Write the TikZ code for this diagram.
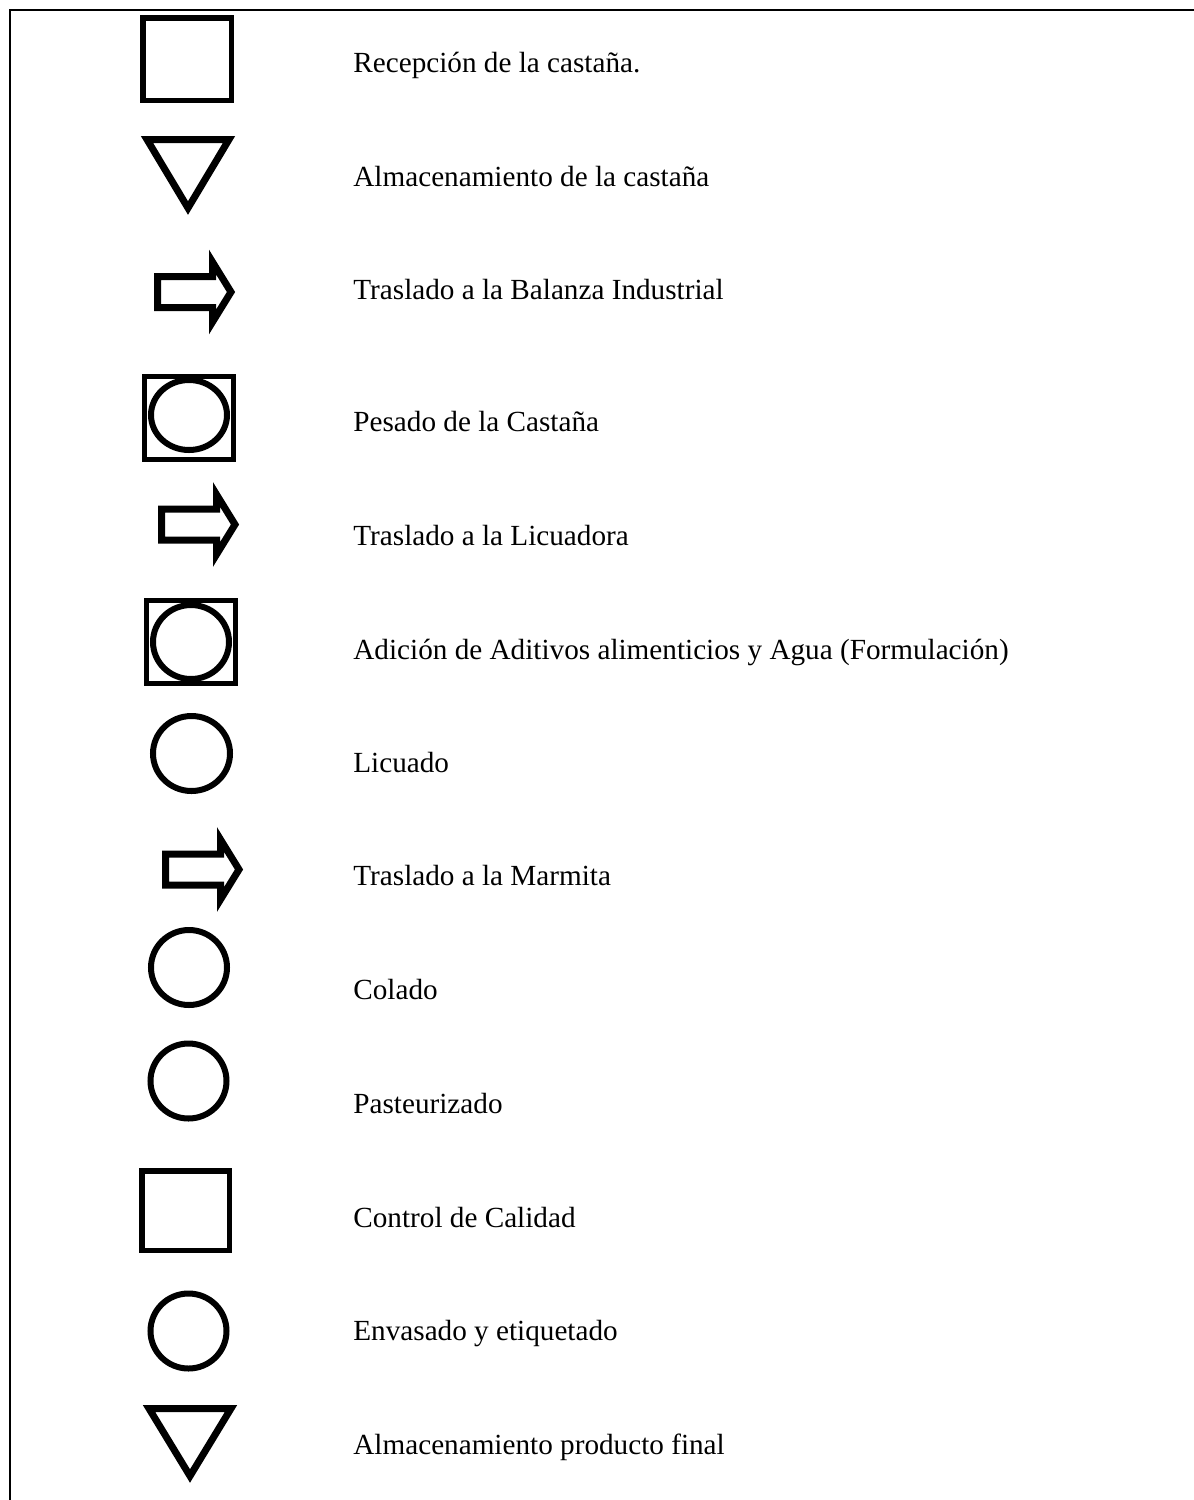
\documentclass[tikz,border=0pt]{standalone}
\usepackage{fontspec}
\setmainfont{Liberation Serif}
\begin{document}
\begin{tikzpicture}[x=0.5pt,y=-0.5pt,
  lbl/.style={anchor=base west,inner sep=0pt,font=\fontsize{14.6}{17}\selectfont},
  sqr/.style={draw=black,line width=2.75pt},
  circ/.style={draw=black,line width=3pt},
  tri/.style={draw=black,line width=3.5pt},
  arr/.style={draw=black,line width=3.5pt}]
\useasboundingbox (0,0) rectangle (1194,1500);
% frame
\draw[line width=1pt] (10,1500) -- (10,10) -- (1194,10);
% symbols
\draw[sqr] (142.75,17.75) rectangle (231.25,100.25);
\draw[tri] (147,139.5) -- (229,139.5) -- (188,208) -- cycle;
\foreach \x/\y in {154/292,158/524.5,162/869.5}{
  \draw[arr] (\x+3.5,\y-15.5) -- (\x+58.5,\y-15.5) -- (\x+58.5,\y-30) -- (\x+77,\y) -- (\x+58.5,\y+30) -- (\x+58.5,\y+15.5) -- (\x+3.5,\y+15.5) -- cycle;
}
\draw[sqr,line width=2.5pt] (144.5,376.5) rectangle (233.5,459.5);
\draw[circ] (189,415) ellipse [x radius=38,y radius=35];
\draw[sqr,line width=2.5pt] (146.5,600.5) rectangle (235.5,683.5);
\draw[circ] (191,642) ellipse [x radius=38,y radius=37];
\draw[circ] (191.5,753.5) ellipse [x radius=38.5,y radius=37.5];
\draw[circ] (189,967.5) ellipse [x radius=38,y radius=37.5];
\draw[circ] (188.5,1081) ellipse [x radius=38,y radius=37.5];
\draw[sqr] (141.75,1170.75) rectangle (229.25,1250.25);
\draw[circ] (188.5,1331) ellipse [x radius=38,y radius=37.5];
\draw[tri] (149,1408.5) -- (231,1408.5) -- (190,1476) -- cycle;
% labels
\node[lbl] (t1) at (353,72) {Recepción de la castaña.};
\node[lbl] (t2) at (353,186) {Almacenamiento de la castaña};
\node[lbl] (t3) at (353,299) {Traslado a la Balanza Industrial};
\node[lbl] (t4) at (353,431) {Pesado de la Castaña};
\node[lbl] (t5) at (353,545) {Traslado a la Licuadora};
\node[lbl] (t6) at (353,659) {Adición de Aditivos alimenticios y Agua (Formulación)};
\node[lbl] (t7) at (353,772) {Licuado};
\node[lbl] (t8) at (353,885) {Traslado a la Marmita};
\node[lbl] (t9) at (353,999) {Colado};
\node[lbl] (t10) at (353,1113) {Pasteurizado};
\node[lbl] (t11) at (353,1227) {Control de Calidad};
\node[lbl] (t12) at (353,1340) {Envasado y etiquetado};
\node[lbl] (t13) at (353,1454) {Almacenamiento producto final};
\end{tikzpicture}
\end{document}
